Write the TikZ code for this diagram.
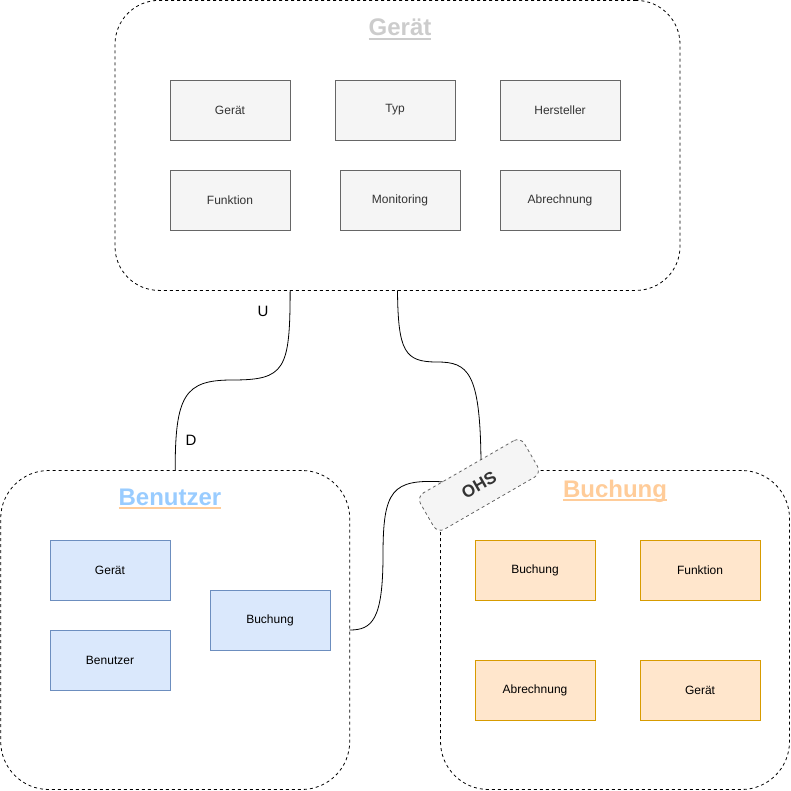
\documentclass[tikz,border=0pt]{standalone}
\usepackage{fontspec}
\setmainfont{Liberation Sans}
\usetikzlibrary{calc}
\definecolor{gfill}{HTML}{F5F5F5}
\definecolor{gline}{HTML}{666666}
\definecolor{gtext}{HTML}{333333}
\definecolor{bfill}{HTML}{DAE8FC}
\definecolor{bline}{HTML}{6C8EBF}
\definecolor{ofill}{HTML}{FFE6CC}
\definecolor{oline}{HTML}{D79B00}
\definecolor{tgray}{HTML}{CCCCCC}
\definecolor{tblue}{HTML}{99CCFF}
\definecolor{torange}{HTML}{FFCC99}
\begin{document}
\begin{tikzpicture}[x=1pt,y=-1pt,
  container/.style={draw=black, line width=0.8pt, dash pattern=on 3pt off 3pt, rounded corners=#1, inner sep=0pt, outer sep=0pt},
  entity/.style={minimum width=120pt, minimum height=60pt, inner sep=0pt, outer sep=0pt, line width=0.8pt, font=\fontsize{12}{14}\selectfont},
  gbox/.style={entity, draw=gline, fill=gfill, text=gtext},
  bbox/.style={entity, draw=bline, fill=bfill, text=black},
  obox/.style={entity, draw=oline, fill=ofill, text=black},
  ctitle/.style={font=\bfseries\fontsize{24}{28}\selectfont, inner sep=0pt, outer sep=0pt, anchor=base},
  uline/.style={line width=1.1pt},
  conn/.style={draw=black, line width=0.8pt},
  elabel/.style={font=\fontsize{15}{18}\selectfont, inner sep=0pt, text=black},
  ohsbox/.style={draw=gline, fill=gfill, text=gtext, line width=0.8pt, dash pattern=on 3pt off 3pt, rounded corners=8pt, minimum width=120pt, minimum height=42pt, inner sep=0pt, outer sep=0pt, font=\bfseries\fontsize{17}{20}\selectfont}
]
\useasboundingbox (0,0) rectangle (791,791);

% containers
\node[container=44pt, minimum width=565pt, minimum height=290pt] (ger) at (397.5,145.4) {};
\node[container=48pt, minimum width=349pt, minimum height=319pt] (ben) at (175.2,630) {};
\node[container=48pt, minimum width=349pt, minimum height=319pt] (buc) at (615,630) {};

% titles
\node[ctitle, text=tgray] (tger) at (400,36) {Gerät};
\draw[uline, tgray] ([yshift=-3pt]tger.base west) -- ([yshift=-3pt]tger.base east);
\node[ctitle, text=tblue] (tben) at (170,505) {Benutzer};
\draw[uline, torange] ([yshift=-3pt]tben.base west) -- ([yshift=-3pt]tben.base east);
\node[ctitle, text=torange] (tbuc) at (615,497) {Buchung};
\draw[uline, torange] ([yshift=-3pt]tbuc.base west) -- ([yshift=-3pt]tbuc.base east);

% Geraet entities
\node[gbox] (g1) at (230,110) {Gerät};
\node[gbox] (g2) at (395,110) {Typ};
\node[gbox] (g3) at (560,110) {Hersteller};
\node[gbox] (g4) at (230,200) {Funktion};
\node[gbox] (g5) at (400,200) {Monitoring};
\node[gbox] (g6) at (560,200) {Abrechnung};

% Benutzer entities
\node[bbox] (b1) at (110,570) {Gerät};
\node[bbox] (b2) at (110,660) {Benutzer};
\node[bbox] (b3) at (270,620) {Buchung};

% Buchung entities
\node[obox] (o1) at (535,570) {Buchung};
\node[obox] (o2) at (700,570) {Funktion};
\node[obox] (o3) at (535,690) {Abrechnung};
\node[obox] (o4) at (700,690) {Gerät};

% OHS
\node[ohsbox, rotate=30] (ohs) at (479,485) {OHS};

% connectors
\draw[conn] ($(ger.south west)!0.31!(ger.south east)$)
  .. controls (290,370) and (285,380) .. (232,380)
  .. controls (185,380) and (175,395) .. (ben.north);
\node[elabel] (lu) at (263,311) {U};
\node[elabel] (ld) at (191,440) {D};

\draw[conn] (ger.south)
  .. controls (398,352) and (405,362) .. (437,362)
  .. controls (468,362) and (480,372) .. ($(ohs.north west)!0.62!(ohs.north east)$);

\draw[conn] (ben.east)
  .. controls (372,630) and (383,620) .. (383,555)
  .. controls (383,490) and (392,479) .. ($(ohs.north west)!0.25!(ohs.north east)$);
\end{tikzpicture}
\end{document}
